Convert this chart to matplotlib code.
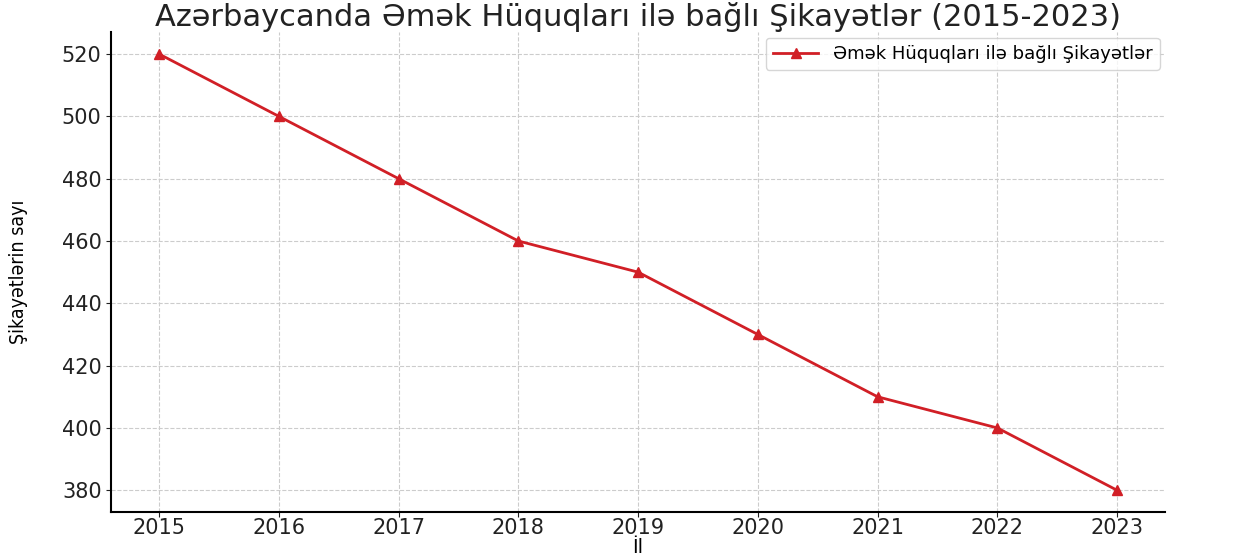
import matplotlib.pyplot as plt

# === Data ===
years = [2015, 2016, 2017, 2018, 2019, 2020, 2021, 2022, 2023]
complaints = [520, 500, 480, 460, 450, 430, 410, 400, 380]

series_label = "Əmək Hüquqları ilə bağlı Şikayətlər"
title = "Azərbaycanda Əmək Hüquqları ilə bağlı Şikayətlər (2015-2023)"

# === Plot ===
fig, ax = plt.subplots(figsize=(12.5, 5.56), dpi=100)
fig.subplots_adjust(left=0.089, right=0.932, top=0.942, bottom=0.079)

ax.plot(years, complaints, color="#d11f26", marker="^", markersize=7,
        linewidth=2, label=series_label)

ax.set_title(title, fontsize=22, color="#222222", pad=4)
ax.set_xlabel("İl", fontsize=14, labelpad=0)
ax.set_ylabel("Şikayətlərin sayı", fontsize=14, labelpad=24,
              fontstretch="condensed")
ax.set_xticks(years)
ax.tick_params(labelsize=15, colors="#222222")
ax.tick_params(axis="x", pad=1)

ax.grid(True, linestyle="--", color="#cccccc", linewidth=0.8)
ax.spines["top"].set_visible(False)
ax.spines["right"].set_visible(False)
ax.spines["left"].set_linewidth(1.5)
ax.spines["bottom"].set_linewidth(1.5)

ax.legend(loc="upper right", fontsize=13, handlelength=2.5,
          borderaxespad=0.3)

fig.savefig("out.png")
